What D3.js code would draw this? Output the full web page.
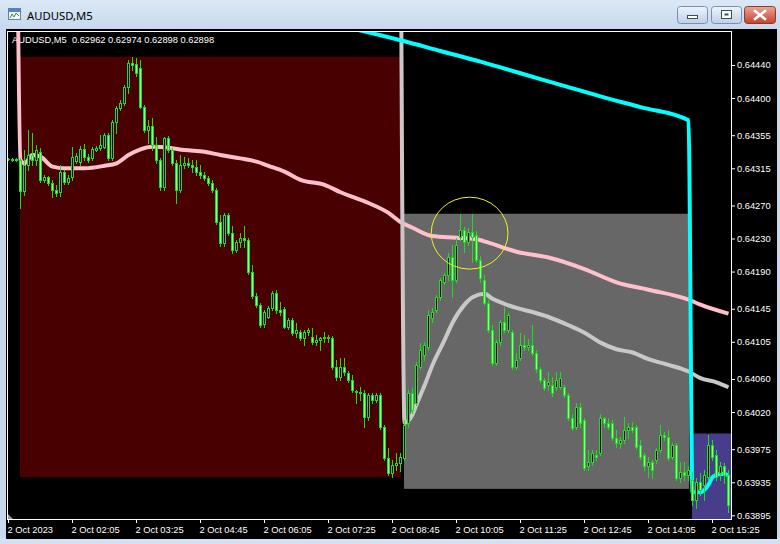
<!DOCTYPE html>
<html><head><meta charset="utf-8">
<script src="https://cdn.jsdelivr.net/npm/d3@7/dist/d3.min.js"></script>
<style>body{margin:0;background:#c6d7ec;}svg{display:block}</style>
</head><body>
<script>
// ---------------- DATA ----------------
const windowTitle = "AUDUSD,M5";
const headerText = "AUDUSD,M5  0.62962 0.62974 0.62898 0.62898";
const firstBarTime = "00:45";   // first visible M5 bar
const barMinutes = 5;

const opens = [0.64326,0.64326,0.64325,0.64325,0.64288,0.64319,0.64331,0.64325,0.64335,0.64301,
0.64304,0.64297,0.64289,0.64286,0.64311,0.64298,0.64304,0.64324,0.64323,0.64338,
0.64329,0.64327,0.64337,0.64340,0.64341,0.64355,0.64327,0.64371,0.64388,0.64394,
0.64413,0.64442,0.64441,0.64436,0.64389,0.64361,0.64366,0.64343,0.64325,0.64292,
0.64352,0.64337,0.64321,0.64289,0.64319,0.64321,0.64319,0.64317,0.64311,0.64307,
0.64303,0.64297,0.64289,0.64250,0.64225,0.64259,0.64237,0.64216,0.64226,0.64231,
0.64228,0.64190,0.64160,0.64150,0.64127,0.64135,0.64146,0.64164,0.64144,0.64145,
0.64123,0.64131,0.64116,0.64117,0.64110,0.64117,0.64111,0.64105,0.64107,0.64110,
0.64111,0.64110,0.64074,0.64062,0.64074,0.64067,0.64059,0.64046,0.64044,0.64043,
0.64014,0.64041,0.64035,0.64041,0.64002,0.63964,0.63946,0.63956,0.63958,0.63964,
0.64007,0.64043,0.64031,0.64075,0.64089,0.64099,0.64134,0.64144,0.64159,0.64177,
0.64186,0.64208,0.64180,0.64232,0.64240,0.64226,0.64238,0.64234,0.64204,0.64180,
0.64152,0.64119,0.64079,0.64105,0.64129,0.64119,0.64117,0.64075,0.64085,0.64101,
0.64099,0.64101,0.64092,0.64072,0.64059,0.64053,0.64053,0.64050,0.64050,0.64050,
0.64041,0.64013,0.64002,0.64026,0.64010,0.63955,0.63960,0.63968,0.63971,0.64013,
0.64007,0.64007,0.63989,0.63983,0.63986,0.63998,0.64002,0.64002,0.63980,0.63968,
0.63955,0.63960,0.63962,0.63974,0.63992,0.63990,0.63966,0.63980,0.63940,0.63948,
0.63944,0.63938,0.63914,0.63935,0.63932,0.63941,0.63980,0.63968,0.63946,0.63955,
0.63944];
const highs = [0.64327,0.64327,0.64327,0.64327,0.64337,0.64361,0.64358,0.64343,0.64340,0.64307,
0.64306,0.64301,0.64295,0.64319,0.64313,0.64307,0.64341,0.64334,0.64342,0.64344,
0.64332,0.64341,0.64342,0.64355,0.64358,0.64358,0.64373,0.64390,0.64398,0.64416,
0.64446,0.64450,0.64448,0.64446,0.64392,0.64373,0.64376,0.64353,0.64327,0.64353,
0.64354,0.64340,0.64325,0.64331,0.64329,0.64327,0.64325,0.64325,0.64319,0.64311,
0.64306,0.64301,0.64291,0.64259,0.64261,0.64261,0.64245,0.64228,0.64237,0.64245,
0.64231,0.64198,0.64164,0.64152,0.64144,0.64148,0.64167,0.64168,0.64153,0.64147,
0.64134,0.64134,0.64128,0.64119,0.64119,0.64122,0.64122,0.64113,0.64111,0.64117,
0.64113,0.64112,0.64083,0.64085,0.64085,0.64070,0.64065,0.64047,0.64050,0.64047,
0.64043,0.64043,0.64043,0.64043,0.64004,0.63977,0.63962,0.63971,0.63971,0.64010,
0.64047,0.64049,0.64081,0.64104,0.64105,0.64144,0.64146,0.64162,0.64182,0.64188,
0.64213,0.64222,0.64231,0.64260,0.64244,0.64243,0.64260,0.64239,0.64209,0.64186,
0.64156,0.64125,0.64107,0.64131,0.64147,0.64140,0.64119,0.64092,0.64116,0.64113,
0.64108,0.64125,0.64095,0.64075,0.64061,0.64069,0.64062,0.64069,0.64069,0.64053,
0.64043,0.64017,0.64031,0.64031,0.64013,0.63974,0.63974,0.63974,0.64017,0.64014,
0.64013,0.64010,0.63998,0.63990,0.64014,0.64007,0.64008,0.64004,0.63986,0.63971,
0.63966,0.63962,0.63977,0.64004,0.63996,0.63998,0.63983,0.63983,0.63960,0.63960,
0.63955,0.63947,0.63940,0.63946,0.63950,0.63992,0.63986,0.63974,0.63960,0.63958,
0.63950];
const lows = [0.64325,0.64324,0.64324,0.64267,0.64283,0.64313,0.64319,0.64319,0.64298,0.64298,
0.64295,0.64280,0.64281,0.64281,0.64296,0.64296,0.64301,0.64321,0.64319,0.64325,
0.64323,0.64325,0.64336,0.64337,0.64340,0.64325,0.64325,0.64358,0.64386,0.64392,
0.64406,0.64434,0.64427,0.64388,0.64359,0.64346,0.64337,0.64321,0.64289,0.64289,
0.64335,0.64319,0.64273,0.64286,0.64315,0.64317,0.64311,0.64307,0.64303,0.64301,
0.64295,0.64286,0.64248,0.64221,0.64221,0.64234,0.64213,0.64214,0.64220,0.64220,
0.64187,0.64158,0.64147,0.64123,0.64123,0.64134,0.64144,0.64140,0.64138,0.64122,
0.64121,0.64113,0.64111,0.64107,0.64101,0.64113,0.64102,0.64101,0.64095,0.64105,
0.64105,0.64072,0.64059,0.64059,0.64065,0.64056,0.64044,0.64031,0.64035,0.64002,
0.64010,0.64031,0.64032,0.64000,0.63962,0.63944,0.63941,0.63950,0.63949,0.63962,
0.64002,0.64019,0.64029,0.64072,0.64083,0.64095,0.64129,0.64141,0.64156,0.64175,
0.64180,0.64159,0.64177,0.64228,0.64214,0.64222,0.64202,0.64202,0.64177,0.64150,
0.64117,0.64077,0.64077,0.64101,0.64117,0.64117,0.64072,0.64072,0.64083,0.64095,
0.64095,0.64089,0.64069,0.64056,0.64047,0.64047,0.64039,0.64047,0.64048,0.64038,
0.64010,0.63998,0.64000,0.64002,0.63950,0.63950,0.63956,0.63962,0.63968,0.64002,
0.64000,0.63986,0.63978,0.63977,0.63983,0.63989,0.63996,0.63975,0.63963,0.63950,
0.63941,0.63940,0.63958,0.63972,0.63986,0.63962,0.63963,0.63938,0.63935,0.63938,
0.63938,0.63908,0.63904,0.63920,0.63914,0.63938,0.63962,0.63938,0.63938,0.63934,
0.63899];
const closes = [0.64326,0.64325,0.64326,0.64288,0.64319,0.64331,0.64325,0.64337,0.64301,0.64304,
0.64297,0.64289,0.64285,0.64311,0.64298,0.64303,0.64329,0.64330,0.64338,0.64329,
0.64325,0.64338,0.64340,0.64343,0.64355,0.64327,0.64371,0.64388,0.64394,0.64413,
0.64442,0.64440,0.64430,0.64389,0.64361,0.64366,0.64343,0.64325,0.64292,0.64352,
0.64337,0.64321,0.64289,0.64319,0.64321,0.64319,0.64317,0.64311,0.64307,0.64303,
0.64297,0.64289,0.64250,0.64225,0.64259,0.64237,0.64216,0.64226,0.64231,0.64228,
0.64190,0.64160,0.64150,0.64125,0.64141,0.64146,0.64164,0.64144,0.64141,0.64123,
0.64131,0.64116,0.64119,0.64110,0.64117,0.64119,0.64105,0.64107,0.64110,0.64111,
0.64110,0.64074,0.64062,0.64074,0.64069,0.64059,0.64047,0.64044,0.64043,0.64014,
0.64041,0.64035,0.64041,0.64002,0.63964,0.63946,0.63956,0.63958,0.63966,0.64004,
0.64043,0.64023,0.64077,0.64095,0.64101,0.64138,0.64141,0.64159,0.64180,0.64186,
0.64208,0.64180,0.64222,0.64240,0.64226,0.64238,0.64232,0.64204,0.64182,0.64152,
0.64119,0.64079,0.64105,0.64129,0.64119,0.64138,0.64075,0.64083,0.64101,0.64099,
0.64101,0.64092,0.64072,0.64059,0.64049,0.64056,0.64043,0.64059,0.64061,0.64041,
0.64013,0.64001,0.64026,0.64007,0.63952,0.63960,0.63971,0.63966,0.64013,0.64007,
0.64002,0.63989,0.63983,0.63986,0.63998,0.64002,0.63998,0.63978,0.63966,0.63955,
0.63960,0.63950,0.63974,0.63992,0.63990,0.63964,0.63980,0.63940,0.63948,0.63944,
0.63950,0.63914,0.63935,0.63926,0.63944,0.63980,0.63966,0.63941,0.63955,0.63944,
0.63908];

// price axis ticks (as printed by the terminal)
const priceTicks = [0.64440,0.64400,0.64355,0.64315,0.64270,0.64230,0.64190,0.64145,0.64105,0.64060,0.64020,0.63975,0.63935,0.63895];
// time axis ticks
const timeTickTimes = ["00:45","02:05","03:25","04:45","06:05","07:25","08:45","10:05","11:25","12:45","14:05","15:25"];
const timeTickLabels = ["2 Oct 2023","2 Oct 02:05","2 Oct 03:25","2 Oct 04:45","2 Oct 06:05","2 Oct 07:25","2 Oct 08:45","2 Oct 10:05","2 Oct 11:25","2 Oct 12:45","2 Oct 14:05","2 Oct 15:25"];

// moving average (pink)
const pinkTimes = ["00:55","01:00","01:05","01:15","01:25","01:40","01:55","02:20","02:45","03:00","03:15","03:30","03:45","04:05","04:25","04:50","05:10","05:35","05:55","06:10","06:30","06:50","07:20","07:40","08:15","08:40","08:55","09:10","09:35","10:05","10:30","10:45","11:20","12:00","12:45","13:25","14:05","14:55","15:10","15:45"];
const pinkValues = [0.64700,0.64325,0.64321,0.64331,0.64329,0.64317,0.64315,0.64315,0.64318,0.64321,0.64331,0.64338,0.64341,0.64340,0.64337,0.64335,0.64331,0.64327,0.64323,0.64318,0.64311,0.64301,0.64295,0.64286,0.64273,0.64261,0.64250,0.64243,0.64233,0.64231,0.64229,0.64225,0.64214,0.64207,0.64193,0.64177,0.64168,0.64156,0.64150,0.64139];
// moving average (silver)
const silverTimes = ["08:55","09:00","09:10","09:15","09:25","09:35","09:50","10:00","10:15","10:25","10:40","10:50","11:05","11:20","11:40","12:00","12:25","12:45","13:05","13:25","13:45","14:05","14:30","14:55","15:10","15:30","15:45"];
const silverValues = [0.64700,0.64007,0.64017,0.64029,0.64052,0.64077,0.64107,0.64128,0.64150,0.64159,0.64163,0.64157,0.64151,0.64146,0.64141,0.64135,0.64125,0.64116,0.64104,0.64096,0.64092,0.64084,0.64077,0.64069,0.64061,0.64056,0.64050];
// cyan line
const cyanTimes = ["07:55","08:55","09:45","10:35","11:25","12:15","13:05","13:55","14:55","15:00","15:10","15:15","15:20","15:25","15:30","15:35","15:40","15:45"];
const cyanValues = [0.64484,0.64470,0.64457,0.64444,0.64430,0.64416,0.64402,0.64389,0.64373,0.63923,0.63923,0.63926,0.63932,0.63941,0.63944,0.63945,0.63945,0.63943];

// session boxes
const boxStart = ["01:00","09:00","15:00"];
const boxEnd   = ["08:55","14:55","16:30"];
const boxHigh  = [0.64450,0.64260,0.63994];
const boxLow   = [0.63941,0.63927,0.63800];

// highlighted ellipse (bounding corners)
const ellipseTimes = ["09:34","11:10"];
const ellipsePrices = [0.64280,0.64193];

// ---------------- DRAW ----------------
const W = 780, H = 544;
const toMin = s => { const [h,m] = s.split(":").map(Number); return h*60+m; };
const startMin = toMin(firstBarTime);

const plotL = 8, plotR = 731, plotT = 32, plotB = 519;
const x = d3.scaleLinear().domain([startMin, startMin + barMinutes*181]).range([8, 732]);
const y = d3.scaleLinear().domain([0.63895, 0.64440]).range([515.3, 65]);

const svg = d3.select("body").append("svg").attr("width", W).attr("height", H);
const defs = svg.append("defs");
function vgrad(id, c1, c2){
  const g = defs.append("linearGradient").attr("id", id).attr("x1",0).attr("y1",0).attr("x2",0).attr("y2",1);
  g.append("stop").attr("offset","0%").attr("stop-color",c1);
  g.append("stop").attr("offset","100%").attr("stop-color",c2);
}
vgrad("titleG","#dce8f6","#c6d8ee");
vgrad("btnG","#eef4fb","#bccfe8");
vgrad("closeG","#e9a898","#c4412b");
defs.append("clipPath").attr("id","plotClip").append("rect")
  .attr("x",plotL).attr("y",plotT).attr("width",plotR-plotL).attr("height",plotB-plotT);

// window frame
svg.append("rect").attr("width",W).attr("height",H).attr("fill","#c8d9ee");
svg.append("rect").attr("width",W).attr("height",30).attr("fill","url(#titleG)");
svg.append("rect").attr("x",0).attr("y",538).attr("width",W).attr("height",6).attr("fill","#d3e1f2");

// icon
const ic = svg.append("g");
ic.append("rect").attr("x",8.5).attr("y",8.5).attr("width",12).attr("height",11).attr("fill","#f4f7fb").attr("stroke","#5d7fae");
ic.append("rect").attr("x",9).attr("y",9).attr("width",11).attr("height",3).attr("fill","#4f82c8");
ic.append("path").attr("d","M10,18 L12,14 L14,17 L16,13 L19,16").attr("fill","none").attr("stroke","#3a8a3a").attr("stroke-width",1);
svg.append("text").attr("x",27).attr("y",20).attr("font-family","'Noto Sans', 'Open Sans', sans-serif")
  .attr("font-size","11.3px").attr("fill","#000").text(windowTitle);

// buttons
function button(bx, w, grad, stroke){
  svg.append("rect").attr("x",bx+0.5).attr("y",6.5).attr("width",w).attr("height",17).attr("rx",3)
    .attr("fill",`url(#${grad})`).attr("stroke",stroke);
}
button(677,30,"btnG","#7b90b0");
button(711,30,"btnG","#7b90b0");
button(744,31,"closeG","#8b3a2c");
svg.append("rect").attr("x",687.5).attr("y",15.5).attr("width",10).attr("height",3).attr("fill","#fff").attr("stroke","#3b4c66");
svg.append("rect").attr("x",721.5).attr("y",10.5).attr("width",10).attr("height",8).attr("fill","#fff").attr("stroke","#3b4c66");
svg.append("rect").attr("x",724.5).attr("y",13.5).attr("width",4).attr("height",2).attr("fill","#3b4c66");
svg.append("path").attr("d","M755,11 L765,19 M765,11 L755,19").attr("stroke","#fff").attr("stroke-width",2.6).attr("stroke-linecap","square");

// chart window
svg.append("rect").attr("x",6).attr("y",29).attr("width",771).attr("height",510).attr("fill","#000");

// header text
svg.append("text").attr("x",12).attr("y",43).attr("font-family","'Liberation Sans', Arial, sans-serif")
  .attr("font-size","9.3px").attr("fill","#fff").style("white-space","pre").text(headerText);

const plot = svg.append("g").attr("clip-path","url(#plotClip)");

// boxes (background objects)
const boxColors = ["#490000","#676767","#483d8b"];
plot.selectAll("rect.box").data(boxStart.map((s,i)=>({s, e: boxEnd[i], hi: boxHigh[i], lo: boxLow[i], col: boxColors[i]})))
  .join("rect").attr("class","box")
  .attr("x", d => x(toMin(d.s)))
  .attr("y", d => y(d.hi))
  .attr("width", d => x(toMin(d.e)) - x(toMin(d.s)) + 1)
  .attr("height", d => y(d.lo) - y(d.hi))
  .attr("fill", d => d.col);

// indicator lines
function drawLine(times, values, color){
  const pts = times.map((t,i)=>[x(toMin(t))+0.5, y(values[i])]);
  plot.append("path").attr("d", d3.line().curve(d3.curveMonotoneX)(pts))
    .attr("fill","none").attr("stroke",color).attr("stroke-width",4).attr("stroke-linejoin","round");
}
drawLine(pinkTimes, pinkValues, "#ffc0cb");
drawLine(silverTimes, silverValues, "#c8c8c8");
drawLine(cyanTimes, cyanValues, "#00ffff");

// candles
const bars = opens.map((o,i)=>({t: startMin + i*barMinutes, o, h: highs[i], l: lows[i], c: closes[i]}));
const lime = "#1edc1e";
const bearFill = "#9ef29e";
const cg = plot.append("g");
const cj = cg.selectAll("g").data(bars).join("g");
cj.append("rect").attr("x", d => Math.round(x(d.t))).attr("width",1)
  .attr("y", d => Math.round(y(d.h)))
  .attr("height", d => Math.max(1, Math.round(y(d.l)) - Math.round(y(d.h)) + 1))
  .attr("fill", lime);
cj.append("rect").attr("x", d => Math.round(x(d.t)) - 1).attr("width",3)
  .attr("y", d => Math.min(Math.round(y(d.o)), Math.round(y(d.c))))
  .attr("height", d => Math.abs(Math.round(y(d.o)) - Math.round(y(d.c))) + 1)
  .attr("fill", lime);
cj.filter(d => Math.abs(Math.round(y(d.o)) - Math.round(y(d.c))) >= 2)
  .append("rect").attr("x", d => Math.round(x(d.t))).attr("width",1)
  .attr("y", d => Math.min(Math.round(y(d.o)), Math.round(y(d.c))) + 1)
  .attr("height", d => Math.abs(Math.round(y(d.o)) - Math.round(y(d.c))) - 1)
  .attr("fill", d => d.c > d.o ? "#000" : bearFill);

// ellipse
const ex1 = x(toMin(ellipseTimes[0])), ex2 = x(toMin(ellipseTimes[1]));
const ey1 = y(ellipsePrices[0]), ey2 = y(ellipsePrices[1]);
plot.append("ellipse").attr("cx",(ex1+ex2)/2).attr("cy",(ey1+ey2)/2)
  .attr("rx",Math.abs(ex2-ex1)/2).attr("ry",Math.abs(ey2-ey1)/2)
  .attr("fill","none").attr("stroke","#f0f020").attr("stroke-width",1);

// plot frame
svg.append("rect").attr("x",7.5).attr("y",31.5).attr("width",724).attr("height",488)
  .attr("fill","none").attr("stroke","#fff");
svg.append("path").attr("d","M8,514 L8,519 L13,519 Z").attr("fill","#9a9a9a");

// axes
const font = "'Liberation Sans', Arial, sans-serif";
const yAxis = d3.axisRight(y).tickValues(priceTicks).tickFormat(d3.format(".5f")).tickSize(3).tickPadding(2);
const ya = svg.append("g").attr("transform","translate(732,0)").call(yAxis);
ya.select(".domain").remove();
ya.selectAll("line").attr("stroke","#fff");
ya.selectAll("text").attr("fill","#fff").attr("font-family",font).attr("font-size","9.3px");

const xAxis = d3.axisBottom(x).tickValues(timeTickTimes.map(toMin)).tickFormat((d,i)=>timeTickLabels[i]).tickSize(4).tickPadding(3);
const xa = svg.append("g").attr("transform","translate(0,519)").call(xAxis);
xa.select(".domain").remove();
xa.selectAll("line").attr("stroke","#fff");
xa.selectAll("text").attr("fill","#fff").attr("font-family",font).attr("font-size","9.3px")
  .attr("text-anchor","start").attr("x",-1);
</script>
</body></html>
